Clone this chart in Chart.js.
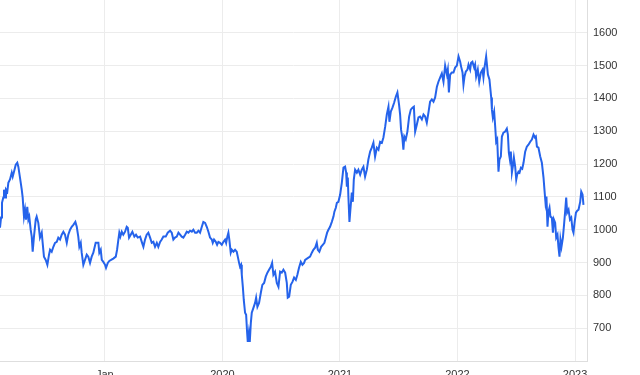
<!DOCTYPE html>
<html><head><meta charset="utf-8">
<style>
html,body{margin:0;padding:0;background:#fff;overflow:hidden;width:640px;height:375px}
#wrap{width:640px;height:390px;position:relative}
</style>
<script src="https://cdn.jsdelivr.net/npm/chart.js@4/dist/chart.umd.min.js"></script>
</head><body><div id="wrap"><canvas id="c"></canvas></div>
<script>
// decimal-year dates
const dates = [
2018.108,2018.117,2018.125,2018.136,2018.142,2018.151,2018.159,2018.170,2018.179,2018.193,2018.208,2018.216,2018.227,2018.242,2018.255,2018.264,2018.278,2018.293,2018.301,2018.312,2018.321,2018.329,2018.340,2018.349,2018.357,2018.369,2018.378,2018.386,2018.397,2018.412,2018.420,2018.434,2018.448,2018.463,2018.471,2018.482,2018.497,2018.511,2018.525,2018.534,2018.548,2018.562,2018.576,2018.591,2018.604,2018.619,2018.633,2018.647,2018.661,2018.676,2018.689,2018.704,2018.718,2018.732,2018.749,2018.761,2018.774,2018.783,2018.795,2018.803,2018.817,2018.831,2018.846,2018.859,2018.874,2018.888,2018.902,2018.922,2018.945,
2018.953,2018.965,2018.974,2018.987,2019.002,2019.010,2019.025,2019.038,2019.053,2019.072,2019.093,2019.104,2019.115,2019.123,2019.132,2019.144,2019.157,2019.172,2019.186,2019.195,2019.206,2019.220,2019.234,2019.251,2019.265,2019.280,2019.300,2019.314,2019.328,2019.342,2019.356,2019.370,2019.385,2019.399,2019.413,2019.427,2019.442,2019.455,2019.470,2019.484,2019.498,2019.518,2019.535,2019.555,2019.569,2019.583,2019.597,2019.612,2019.626,2019.640,2019.654,2019.668,2019.683,2019.697,2019.711,2019.725,2019.740,2019.753,2019.768,
2019.782,2019.796,2019.810,2019.825,2019.838,2019.853,2019.867,2019.881,2019.895,2019.910,2019.918,2019.929,2019.944,2019.955,2019.966,2019.980,2019.995,2020.009,2020.023,2020.032,2020.042,2020.051,2020.059,2020.071,2020.080,2020.094,2020.108,2020.122,2020.131,2020.142,2020.150,2020.159,2020.165,2020.174,2020.182,2020.193,2020.202,2020.210,2020.216,2020.225,2020.233,2020.242,2020.250,2020.264,2020.278,2020.287,2020.298,2020.312,2020.327,2020.340,2020.355,2020.369,2020.383,2020.397,2020.412,2020.423,2020.434,2020.448,2020.463,2020.477,2020.491,2020.505,2020.519,2020.534,2020.548,2020.556,2020.568,2020.582,2020.596,2020.610,2020.625,2020.638,2020.652,2020.667,2020.681,2020.695,
2020.704,2020.732,2020.746,2020.761,2020.774,2020.789,2020.803,2020.812,2020.825,2020.840,2020.854,2020.868,2020.880,2020.891,2020.902,2020.916,2020.931,2020.945,2020.953,2020.965,2020.974,2020.987,2021.002,2021.016,2021.030,2021.044,2021.053,2021.059,2021.067,2021.072,2021.081,2021.089,2021.101,2021.110,2021.118,2021.129,2021.144,2021.157,2021.172,2021.186,2021.200,2021.214,2021.229,2021.242,2021.257,2021.271,2021.285,2021.299,2021.314,2021.328,2021.342,2021.357,2021.370,2021.385,2021.399,2021.413,2021.421,2021.433,2021.447,2021.461,2021.476,2021.489,
2021.503,2021.512,2021.520,2021.531,2021.540,2021.548,2021.560,2021.574,2021.589,2021.603,2021.617,2021.629,2021.640,2021.654,2021.668,2021.682,2021.697,2021.711,2021.725,2021.739,2021.753,2021.767,2021.782,2021.796,2021.810,2021.825,2021.838,2021.853,2021.867,2021.881,2021.895,2021.910,2021.918,2021.927,2021.938,2021.952,2021.966,2021.980,2021.995,2022.009,2022.023,2022.031,2022.043,2022.051,2022.060,2022.071,2022.085,2022.094,2022.108,2022.116,2022.127,2022.142,2022.150,2022.159,2022.173,2022.185,2022.199,2022.213,2022.221,2022.230,2022.244,2022.259,2022.272,2022.287,2022.293,2022.301,2022.312,2022.321,2022.329,2022.338,2022.349,2022.357,2022.369,2022.378,2022.391,2022.406,
2022.420,2022.429,2022.437,2022.446,2022.454,2022.463,2022.471,2022.480,2022.491,2022.500,2022.508,2022.519,2022.528,2022.540,2022.551,2022.562,2022.576,2022.590,2022.604,2022.619,2022.633,2022.647,2022.659,2022.667,2022.676,2022.689,2022.704,2022.718,2022.732,2022.740,2022.749,2022.757,2022.766,2022.774,2022.783,2022.791,2022.803,2022.812,2022.820,2022.831,2022.840,2022.851,2022.859,2022.868,2022.876,2022.885,2022.897,2022.908,2022.916,2022.925,2022.933,2022.945,2022.957,2022.968,2022.979,2022.987,2022.996,2023.008,2023.019,2023.030,2023.044,2023.053,2023.064,2023.072
];
const values = [
1006,1037,1082,1098,1122,1098,1122,1116,1143,1153,1174,1162,1177,1198,1204,1192,1159,1122,1098,1040,1061,1031,1070,1031,1040,1000,979,933,979,1031,1040,1021,976,991,960,918,908,893,924,939,933,948,960,963,976,970,985,994,985,960,985,1000,1009,1015,1024,1009,979,948,960,930,893,908,924,918,899,918,930,960,960,
930,939,908,902,893,884,899,905,908,912,918,939,970,991,979,994,985,994,1009,1006,976,985,994,979,985,976,979,963,948,970,985,991,976,960,963,948,960,948,963,970,979,979,991,997,991,970,976,979,991,985,979,976,985,994,991,997,994,1000,991,
991,997,991,1009,1024,1021,1009,994,976,970,960,970,963,954,963,960,954,963,970,960,979,991,970,930,939,933,939,933,918,899,887,893,863,826,786,747,741,689,658,686,658,716,747,762,777,793,765,777,808,832,838,857,869,878,887,899,863,872,838,826,872,869,878,869,838,793,796,832,841,854,847,863,884,902,893,899,
908,915,918,930,939,945,960,939,933,948,954,960,976,991,1000,1009,1024,1040,1055,1067,1082,1085,1107,1143,1189,1192,1174,1131,1159,1101,1024,1061,1113,1085,1153,1183,1174,1183,1168,1183,1192,1162,1183,1214,1238,1250,1265,1223,1250,1244,1268,1265,1281,1314,1351,1375,1329,1360,1372,1387,1406,1418,
1381,1351,1305,1281,1244,1284,1275,1299,1345,1366,1372,1375,1299,1320,1342,1345,1336,1351,1345,1326,1357,1390,1397,1390,1403,1436,1451,1464,1476,1451,1500,1473,1488,1418,1473,1479,1479,1494,1500,1528,1512,1497,1479,1442,1467,1482,1488,1503,1488,1509,1512,1494,1503,1467,1488,1451,1479,1488,1464,1494,1528,1473,1458,1403,1366,1342,1360,1314,1268,1275,1177,1214,1223,1284,1296,1299,
1308,1290,1235,1214,1238,1174,1192,1220,1192,1153,1168,1177,1174,1189,1186,1204,1238,1253,1259,1268,1275,1290,1281,1284,1253,1250,1223,1204,1159,1122,1082,1101,1009,1055,1067,1040,1037,991,1031,1021,976,985,948,918,970,948,976,1021,1055,1098,1052,1061,1031,1037,1000,991,1021,1052,1058,1061,1085,1116,1107,1076
];
const xTickValues = [2019, 2020, 2021, 2022, 2023];
const xTickLabels = ['Jan', '2020', '2021', '2022', '2023'];
const yTickValues = [700, 800, 900, 1000, 1100, 1200, 1300, 1400, 1500, 1600];

const points = dates.map((d, i) => ({x: d, y: values[i]}));
const tickFont = {family: "'Liberation Sans', Arial, sans-serif", size: 11};
const gridColor = '#ececec';

function zeroPad(s) { s.paddingTop = 0; s.paddingBottom = 0; s.paddingLeft = 0; s.paddingRight = 0; }

new Chart(document.getElementById('c'), {
  type: 'line',
  data: {datasets: [{
    data: points,
    borderColor: '#2563eb',
    borderWidth: 2,
    pointRadius: 0,
    tension: 0,
    fill: false
  }]},
  options: {
    responsive: true,
    maintainAspectRatio: false,
    animation: false,
    layout: {padding: 0},
    plugins: {legend: {display: false}, tooltip: {enabled: false}},
    scales: {
      x: {
        type: 'linear',
        position: 'bottom',
        min: 2018.108,
        max: 2023.102,
        afterBuildTicks: s => { s.ticks = xTickValues.map(v => ({value: v})); },
        afterFit: s => { s.height = 29; zeroPad(s); },
        ticks: {
          autoSkip: false, maxRotation: 0, padding: 7,
          font: tickFont, color: '#333',
          callback: v => xTickLabels[xTickValues.indexOf(v)]
        },
        grid: {color: gridColor, drawTicks: false},
        border: {color: '#dedede'}
      },
      y: {
        position: 'right',
        min: 600,
        max: 1700,
        afterBuildTicks: s => { s.ticks = yTickValues.map(v => ({value: v})); },
        afterFit: s => { s.width = 53; zeroPad(s); },
        ticks: {padding: 6, font: tickFont, color: '#333', callback: v => String(v)},
        grid: {color: gridColor, drawTicks: false},
        border: {color: '#dedede'}
      }
    }
  }
});
</script>
</body></html>
